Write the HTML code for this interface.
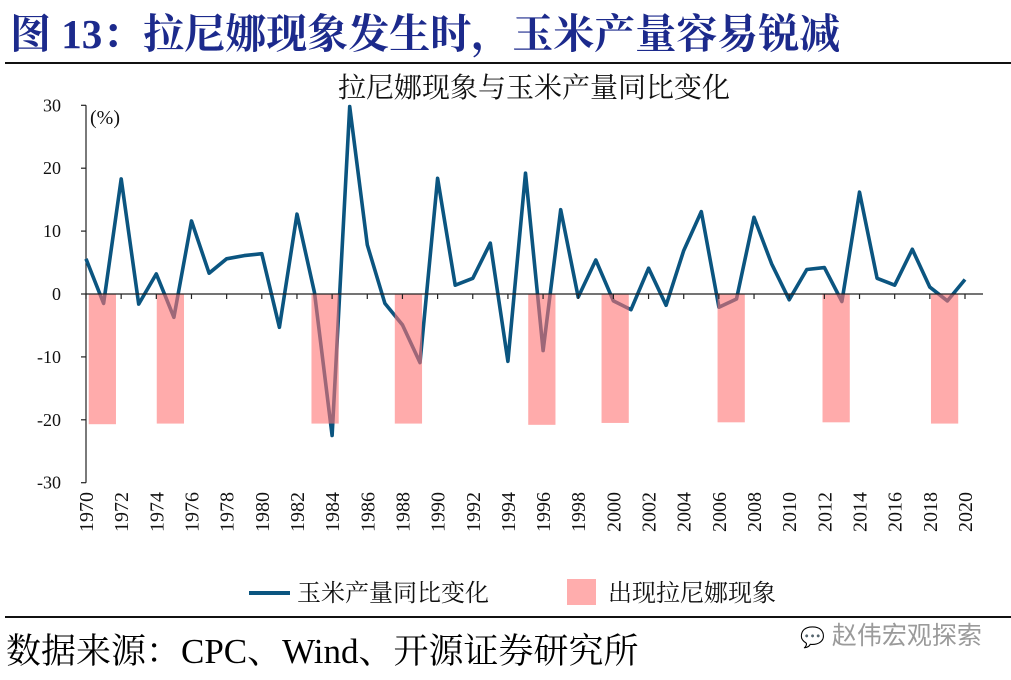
<!DOCTYPE html>
<html><head><meta charset="utf-8">
<style>
html,body{margin:0;padding:0;background:#fff;}
body{width:1011px;height:680px;position:relative;overflow:hidden;font-family:"Liberation Serif","Noto Serif CJK SC",serif;}
#title{position:absolute;left:10px;top:1px;font-size:41px;font-weight:bold;color:#1c2a8c;white-space:nowrap;letter-spacing:0px;font-family:"Liberation Serif","Noto Serif CJK SC",serif;}
.rule{position:absolute;left:5px;width:1006px;height:2px;background:#111;}
#source{position:absolute;left:6px;top:624px;font-size:35px;color:#000;white-space:nowrap;}
#wm{position:absolute;left:800px;top:616px;font-size:25px;color:#9a9a9a;white-space:nowrap;font-family:"Liberation Sans","Noto Sans CJK SC",sans-serif;}
</style></head>
<body>
<div id="title">图 13：拉尼娜现象发生时，玉米产量容易锐减</div>
<div class="rule" style="top:62px"></div>
<div class="rule" style="top:616px"></div>
<svg id="chart" width="1011" height="680" style="position:absolute;left:0;top:0"></svg>
<div id="source">数据来源：CPC、Wind、开源证券研究所</div>
<div id="wm"><span style="font-size:20px">💬</span> 赵伟宏观探索</div>
<script>
const years = [];
for (let y = 1970; y <= 2020; y++) years.push(y);
const growth = [5.6,-1.5,18.3,-1.6,3.2,-3.7,11.6,3.3,5.6,6.1,6.4,-5.3,12.7,0.2,-22.5,29.8,7.8,-1.5,-4.9,-10.9,18.4,1.4,2.5,8.1,-10.7,19.2,-9.0,13.4,-0.5,5.4,-1.1,-2.5,4.1,-1.8,6.9,13.1,-2.1,-0.8,12.2,4.8,-0.9,3.9,4.2,-1.2,16.2,2.5,1.4,7.1,1.1,-1.1,2.3];
const laNinaCenters = [1970.93,1974.8,1983.6,1988.34,1995.93,2000.1,2006.7,2012.67,2018.84];
const laNinaValues = [-20.7,-20.6,-20.6,-20.6,-20.8,-20.5,-20.4,-20.4,-20.6];
const yTicks = [30,20,10,0,-10,-20,-30];
const xTickYears = years.filter(y => y % 2 === 0);

const NS = "http://www.w3.org/2000/svg";
const svg = document.getElementById('chart');
const X0 = 86, PX_PER_YEAR = 17.58, Y0 = 294, PX_PER_UNIT = 6.29, BAR_W_YEARS = 1.55;
const xs = v => X0 + (v - 1970) * PX_PER_YEAR;
const ys = v => Y0 - v * PX_PER_UNIT;
function mk(tag, attrs, parent) {
  const e = document.createElementNS(NS, tag);
  for (const k in attrs) e.setAttribute(k, attrs[k]);
  (parent || svg).appendChild(e);
  return e;
}
let t = mk('text', {x: 534, y: 97, 'text-anchor': 'middle', 'font-size': 28, fill: '#111', 'font-family': '"Liberation Serif","Noto Serif CJK SC",serif'});
t.textContent = '拉尼娜现象与玉米产量同比变化';


let ya = mk('line', {x1: X0, y1: ys(30), x2: X0, y2: ys(-30), stroke: '#222', 'stroke-width': 1.2});


yTicks.forEach(v => {
  const tk = mk('line', {x1: X0 - 5, y1: ys(v), x2: X0, y2: ys(v), stroke: '#222', 'stroke-width': 1.2});
  
  
  const lb = mk('text', {x: 61, y: ys(v) + 6, 'text-anchor': 'end', 'font-size': 18, fill: '#111'});
  lb.textContent = v;
  
  
});
let unit = mk('text', {x: 90, y: 124, 'font-size': 20, fill: '#111'});
unit.textContent = '(%)';


let d = growth.map((v, i) => (i ? 'L' : 'M') + xs(years[i]).toFixed(1) + ' ' + ys(v).toFixed(1)).join(' ');
let ln = mk('path', {d: d, fill: 'none', stroke: '#0b5580', 'stroke-width': 3.6, 'stroke-linejoin': 'round'});


laNinaCenters.forEach((c, i) => {
  const w = BAR_W_YEARS * PX_PER_YEAR;
  const b = mk('rect', {x: xs(c) - w / 2, y: ys(0), width: w, height: ys(laNinaValues[i]) - ys(0), fill: 'rgb(255,115,115)', 'fill-opacity': 0.6});
  
  
});
let xa = mk('line', {x1: X0, y1: Y0, x2: 983, y2: Y0, stroke: '#222', 'stroke-width': 1.2});


xTickYears.forEach(yr => {
  const tk = mk('line', {x1: xs(yr), y1: Y0, x2: xs(yr), y2: Y0 + 5, stroke: '#222', 'stroke-width': 1.2});
  
  
  const lb = mk('text', {x: 0, y: 0, 'font-size': 20, fill: '#111', 'text-anchor': 'end', transform: 'translate(' + (xs(yr) + 7) + ',492) rotate(-90)'});
  lb.textContent = yr;
  
  
});
let l1 = mk('line', {x1: 249, y1: 593, x2: 290, y2: 593, stroke: '#0b5580', 'stroke-width': 4});


let l1t = mk('text', {x: 297, y: 601, 'font-size': 24, fill: '#111'});
l1t.textContent = '玉米产量同比变化';


let l2 = mk('rect', {x: 567, y: 579, width: 29, height: 26, fill: '#ffadad'});


let l2t = mk('text', {x: 608, y: 601, 'font-size': 24, fill: '#111'});
l2t.textContent = '出现拉尼娜现象';


</script>
</body></html>
